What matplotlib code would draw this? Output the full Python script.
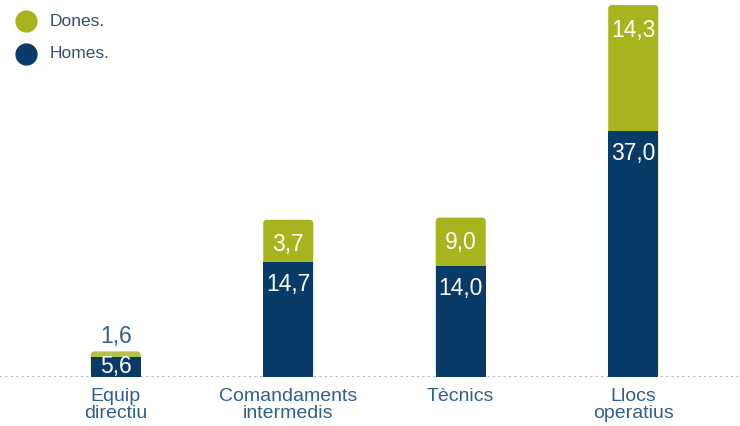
import matplotlib
matplotlib.use('Agg')
import matplotlib.pyplot as plt
from matplotlib.patches import FancyBboxPatch
from matplotlib.lines import Line2D
import numpy as np

plt.rcParams['font.family'] = ['Liberation Sans', 'DejaVu Sans']

# Data: printed values and bar heights as drawn in the original (not to scale)
categories = ['Equip\ndirectiu', 'Comandaments\nintermedis', 'Tècnics', 'Llocs\noperatius']
homes_lbl = ['5,6', '14,7', '14,0', '37,0']
dones_lbl = ['1,6', '3,7', '9,0', '14,3']
homes_h = [2.7, 15.8, 15.3, 34.0]
dones_h = [0.8, 5.9, 6.7, 17.4]

NAVY = '#083b68'
GREEN = '#a8b41e'
GREEN_LIGHT = '#b3c24a'
LABEL_BLUE = '#2f6090'
LEGEND_TXT = '#34506e'

fig = plt.figure(figsize=(7.4, 4.26), dpi=100)
ax = fig.add_axes([0, 0.1157, 1, 0.8843])
x = np.arange(len(categories))
w = 0.29

# green drawn full height with rounded top, navy on top of it
totals = np.array(homes_h) + np.array(dones_h)
for i, (xi, t) in enumerate(zip(x, totals)):
    p = FancyBboxPatch((xi - w / 2, 0), w, t,
                       boxstyle='round,pad=0,rounding_size=0.022',
                       mutation_aspect=24, fc=GREEN_LIGHT if i == 0 else GREEN,
                       ec='none', zorder=2)
    ax.add_patch(p)
ax.bar(x, homes_h, width=w, color=NAVY, zorder=3)

ax.set_xlim(-0.671, 3.619)
ax.set_ylim(0, 52.1)

# baseline
ax.axhline(0, color='#8eabc4', lw=1.3, ls=(0, (1, 2)), zorder=1)

# value labels
for i in range(len(x)):
    if i == 0:
        ax.annotate(homes_lbl[i], (x[i], homes_h[i]), xytext=(0, -7), textcoords='offset points',
                    ha='center', va='center', color='white', fontsize=16.5, zorder=4)
        ax.annotate(dones_lbl[i], (x[i], totals[i]), xytext=(0, 11), textcoords='offset points',
                    ha='center', va='center', color=LABEL_BLUE, fontsize=16.5, zorder=4)
    else:
        ax.annotate(homes_lbl[i], (x[i], homes_h[i]), xytext=(0, -16), textcoords='offset points',
                    ha='center', va='center', color='white', fontsize=16.5, zorder=4)
        ax.annotate(dones_lbl[i], (x[i], totals[i]), xytext=(0, -18), textcoords='offset points',
                    ha='center', va='center', color='white', fontsize=16.5, zorder=4)

ax.set_xticks(x)
ax.set_xticklabels(categories, fontsize=14, color=LABEL_BLUE, linespacing=1.0)
ax.tick_params(axis='x', length=0, pad=8)
ax.set_yticks([])
for s in ax.spines.values():
    s.set_visible(False)

# legend
for yy, lbl, c in [(21, 'Dones.', GREEN), (54, 'Homes.', NAVY)]:
    fig.add_artist(Line2D([26 / 740], [1 - yy / 426], marker='o', markersize=15,
                          color=c, transform=fig.transFigure))
    fig.text(50 / 740, 1 - yy / 426, lbl, fontsize=12.5, color=LEGEND_TXT,
             va='center', ha='left')

fig.savefig('out.png', dpi=100)
